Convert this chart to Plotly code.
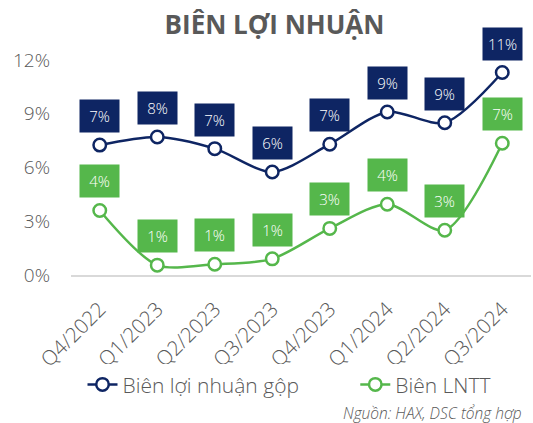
import plotly.graph_objects as go

categories = ["Q4/2022", "Q1/2023", "Q2/2023", "Q3/2023", "Q4/2023", "Q1/2024", "Q2/2024", "Q3/2024"]
gross_margin = [7.25, 7.7, 7.05, 5.75, 7.3, 9.1, 8.5, 11.3]
pretax_margin = [3.6, 0.55, 0.6, 0.9, 2.6, 3.95, 2.5, 7.35]
gross_labels = ["7%", "8%", "7%", "6%", "7%", "9%", "9%", "11%"]
pretax_labels = ["4%", "1%", "1%", "1%", "3%", "4%", "3%", "7%"]
y_ticks = [0, 3, 6, 9, 12]
y_tick_text = ["0%", "3%", "6%", "9%", "12%"]

NAVY = "#0E2563"
GREEN = "#55B74B"
GRAY = "#595959"
FONT = "Open Sans"

fig = go.Figure()
fig.add_trace(go.Scatter(
    x=categories, y=gross_margin, name="Biên lợi nhuận gộp", legend="legend",
    mode="lines+markers", line=dict(color=NAVY, width=2.5, shape="spline", smoothing=0.8),
    marker=dict(size=12.5, color="white", line=dict(color=NAVY, width=2.5)),
    cliponaxis=False,
))
fig.add_trace(go.Scatter(
    x=categories, y=pretax_margin, name="Biên LNTT", legend="legend2",
    mode="lines+markers", line=dict(color=GREEN, width=2.5, shape="spline", smoothing=0.8),
    marker=dict(size=12.5, color="white", line=dict(color=GREEN, width=2.5)),
    cliponaxis=False,
))

annotations = []
for cats, vals, labs, col in [(categories, gross_margin, gross_labels, NAVY),
                              (categories, pretax_margin, pretax_labels, GREEN)]:
    for c, v, t in zip(cats, vals, labs):
        annotations.append(dict(
            x=c, y=v, xref="x", yref="y", text=t, showarrow=False,
            yshift=29, bgcolor=col, width=37, height=30,
            font=dict(family=FONT, size=15, color="white", weight=300),
        ))

annotations.append(dict(
    text="<i>Nguồn: HAX, DSC tổng hợp</i>", xref="paper", yref="paper",
    x=0.985, y=-0.615, xanchor="right", yanchor="middle", showarrow=False,
    font=dict(family=FONT, size=15.5, color=GRAY, weight=300),
))

legend_font = dict(family=FONT, size=21, color=GRAY, weight=300)
fig.update_layout(
    width=533, height=423,
    margin=dict(l=71, r=2, t=51, b=148),
    paper_bgcolor="white", plot_bgcolor="white",
    title=dict(text="<b>BIÊN LỢI NHUẬN</b>", x=0.515, xanchor="center", y=0.941, yanchor="middle",
               font=dict(family=FONT, size=26, color=GRAY)),
    font=dict(family=FONT, color=GRAY),
    showlegend=True,
    legend=dict(orientation="h", x=0.025, xanchor="left", y=-0.49, yanchor="middle",
                font=legend_font),
    legend2=dict(orientation="h", x=0.618, xanchor="left", y=-0.49, yanchor="middle",
                 font=legend_font),
    annotations=annotations,
)
fig.update_xaxes(
    type="category", range=[-0.5, 7.5], showgrid=False, zeroline=False,
    showline=True, linecolor="#D9D9D9", linewidth=2, ticks="",
    tickangle=-45, ticklabelstandoff=12,
    tickfont=dict(family=FONT, size=20.5, color=GRAY, weight=300),
)
fig.update_yaxes(
    range=[0, 12.5], tickvals=y_ticks, ticktext=y_tick_text, showgrid=False,
    zeroline=False, showline=False, ticks="", ticklabelstandoff=20,
    tickfont=dict(family=FONT, size=19, color=GRAY, weight=300),
)

fig.write_html("out.html")
